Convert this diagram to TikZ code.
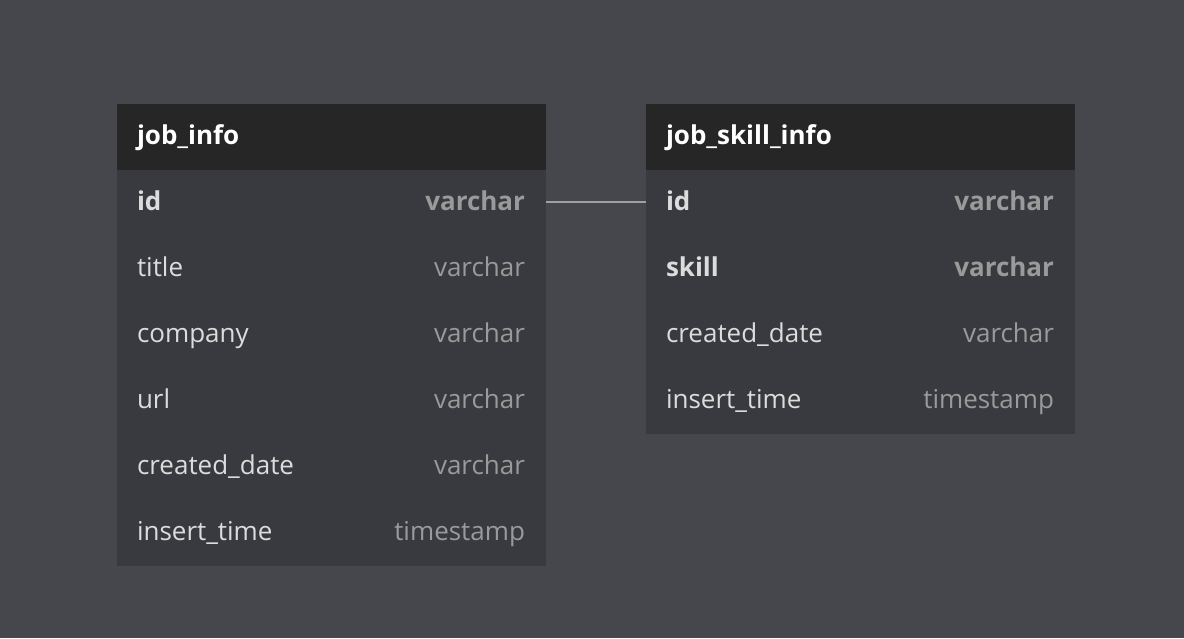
\documentclass[tikz,border=0pt]{standalone}
\usepackage{fontspec}
\setmainfont{Open Sans}
\definecolor{bgc}{HTML}{46474C}
\definecolor{bodyc}{HTML}{393A3F}
\definecolor{headc}{HTML}{262626}
\definecolor{namec}{HTML}{DCDCDC}
\definecolor{typec}{HTML}{9A9A9A}
\definecolor{linkc}{HTML}{A0A0A0}
\tikzset{
  every node/.style={inner sep=0pt, outer sep=0pt},
  head/.style={anchor=base west, text=white, font=\fontsize{26}{31}\selectfont\bfseries},
  fname/.style={anchor=base west, text=namec, font=\fontsize{26}{31}\selectfont},
  fnameb/.style={anchor=base west, text=namec, font=\fontsize{26}{31}\selectfont\bfseries},
  ftype/.style={anchor=base east, text=typec, font=\fontsize{26}{31}\selectfont},
  ftypeb/.style={anchor=base east, text=typec, font=\fontsize{26}{31}\selectfont\bfseries},
  link/.style={draw=linkc, line width=1.5pt},
}
\begin{document}
\begin{tikzpicture}[x=1pt,y=-1pt]
\fill[bgc] (0,0) rectangle (1184,638);
\useasboundingbox (0,0) rectangle (1184,638);
% left table
\fill[bodyc] (117,170) rectangle (546,566);
\fill[headc] (117,104) rectangle (546,170);
\node[head] (lh) at (137,144) {job\_info};
\node[fnameb] (l1) at (137,210) {id};
\node[ftypeb] (l1t) at (525,210) {varchar};
\node[fname] (l2) at (137,276) {title};
\node[ftype] (l2t) at (525,276) {varchar};
\node[fname] (l3) at (137,342) {company};
\node[ftype] (l3t) at (525,342) {varchar};
\node[fname] (l4) at (137,408) {url};
\node[ftype] (l4t) at (525,408) {varchar};
\node[fname] (l5) at (137,474) {created\_date};
\node[ftype] (l5t) at (525,474) {varchar};
\node[fname] (l6) at (137,540) {insert\_time};
\node[ftype] (l6t) at (525,540) {timestamp};
% right table
\fill[bodyc] (646,170) rectangle (1075,434);
\fill[headc] (646,104) rectangle (1075,170);
\node[head] (rh) at (666,144) {job\_skill\_info};
\node[fnameb] (r1) at (666,210) {id};
\node[ftypeb] (r1t) at (1054,210) {varchar};
\node[fnameb] (r2) at (666,276) {skill};
\node[ftypeb] (r2t) at (1054,276) {varchar};
\node[fname] (r3) at (666,342) {created\_date};
\node[ftype] (r3t) at (1054,342) {varchar};
\node[fname] (r4) at (666,408) {insert\_time};
\node[ftype] (r4t) at (1054,408) {timestamp};
% connector
\coordinate (ca) at (546,202);
\coordinate (cb) at (646,202);
\draw[link] (ca) -- (cb);
\end{tikzpicture}
\end{document}
